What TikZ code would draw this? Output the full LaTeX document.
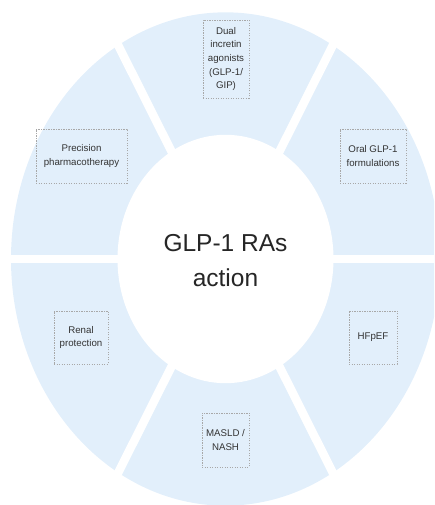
\documentclass[tikz,border=0pt]{standalone}
\usepackage{fontspec}
\setmainfont{Liberation Sans}
\definecolor{ringblue}{HTML}{E2EFFB}
\definecolor{boxgray}{HTML}{A8A8A8}
\definecolor{txt}{HTML}{333333}
\begin{document}
\begin{tikzpicture}[x=1pt,y=1pt,
  lbl/.style={draw=boxgray, dash pattern=on 1.2pt off 1.3pt, line width=0.9pt,
    align=center, inner sep=0pt, text=txt,
    font=\fontsize{9.7}{13.7}\selectfont},
  hub/.style={align=center, inner sep=0pt, text=black!85,
    font=\fontsize{24.5}{35}\selectfont}
]
\useasboundingbox (0,0) rectangle (434,505);
\clip (0,0) rectangle (434,505);
\begin{scope}[shift={(225.5,246)}, yscale=1.15]
  \fill[ringblue] (0,0) circle (214.5);
  \foreach \a in {0,60,120}
    \draw[white, line width=8.5pt] (\a+180:240) -- (\a:240);
  \fill[white] (0,0) circle (108);
\end{scope}
\node[hub] (center) at (225.5,244) {GLP-1 RAs\\action};
\node[lbl, minimum width=46, minimum height=78] (dual) at (226,446)
  {Dual\\incretin\\agonists\\(GLP-1/\\GIP)};
\node[lbl, minimum width=91, minimum height=54] (precision) at (81.5,349)
  {Precision\\pharmacotherapy};
\node[lbl, minimum width=66, minimum height=54] (oral) at (373,349)
  {Oral GLP-1\\formulations};
\node[lbl, minimum width=54, minimum height=53] (renal) at (81,167.5)
  {Renal\\protection};
\node[lbl, minimum width=48, minimum height=53] (hfpef) at (373,167.5)
  {HFpEF};
\node[lbl, minimum width=47, minimum height=54] (masld) at (225.5,65)
  {MASLD /\\NASH};
\end{tikzpicture}
\end{document}
